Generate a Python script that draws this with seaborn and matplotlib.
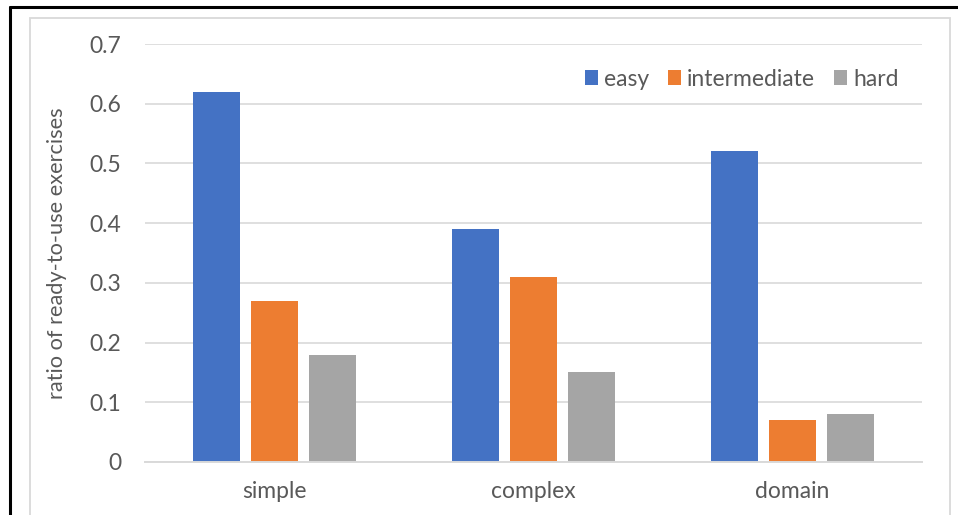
import matplotlib
matplotlib.use("Agg")
import matplotlib.pyplot as plt
from matplotlib.patches import Rectangle
from matplotlib.lines import Line2D
import seaborn as sns
import pandas as pd

categories = ["simple", "complex", "domain"]
levels = ["easy", "intermediate", "hard"]
easy = [0.62, 0.39, 0.52]
intermediate = [0.27, 0.31, 0.07]
hard = [0.18, 0.15, 0.08]
yticks = [0, 0.1, 0.2, 0.3, 0.4, 0.5, 0.6, 0.7]
ytick_labels = ["0", "0.1", "0.2", "0.3", "0.4", "0.5", "0.6", "0.7"]

df = pd.DataFrame({
    "category": categories * 3,
    "level": [lv for lv in levels for _ in categories],
    "ratio": easy + intermediate + hard,
})

sns.set_theme(style="white")
plt.rcParams["font.family"] = ["Lato", "DejaVu Sans"]

text_color = "#595959"
grid_color = "#d9d9d9"
palette = {"easy": "#4472C4", "intermediate": "#ED7D31", "hard": "#A5A5A5"}
fs = 16.5

fig = plt.figure(figsize=(9.58, 5.15), dpi=100)
ax = fig.add_axes([145 / 958, 1 - 462 / 515, (922 - 145) / 958, (462 - 44) / 515])

sns.barplot(data=df, x="category", y="ratio", hue="level", order=categories,
            hue_order=levels, palette=palette, width=0.672, gap=0.205,
            saturation=1, linewidth=0, ax=ax, legend=True)

ax.set_ylim(0, 0.7)
ax.set_xlim(-0.5, 2.5)
ax.set_yticks(yticks)
ax.set_yticklabels(ytick_labels)
ax.yaxis.grid(True, color=grid_color, linewidth=1.2)
ax.set_axisbelow(True)
for side in ["top", "right", "left"]:
    ax.spines[side].set_visible(False)
ax.spines["bottom"].set_color(grid_color)
ax.spines["bottom"].set_linewidth(1.4)
ax.tick_params(axis="both", length=0, colors=text_color, labelsize=fs)
ax.tick_params(axis="y", pad=17)
ax.tick_params(axis="x", pad=14)
ax.set_xlabel("")
ax.set_ylabel("ratio of ready-to-use exercises", color=text_color, fontsize=15.7, labelpad=16)

leg = ax.legend(loc="center right", bbox_to_anchor=(0.970, 0.916), ncol=3, frameon=False,
                fontsize=fs, handlelength=0.57, handleheight=0.57,
                handletextpad=0.26, columnspacing=0.83, borderaxespad=0, borderpad=0)
for t in leg.get_texts():
    t.set_color(text_color)

# chart frame: light grey inner border and dark outer edge lines
fig.add_artist(Rectangle((30 / 958, -0.1), (950 - 30) / 958, 1.1 - 18 / 515,
                         transform=fig.transFigure, fill=False,
                         edgecolor="#d9d9d9", linewidth=1.3))
fig.add_artist(Line2D([10 / 958, 1.0], [1 - 7 / 515, 1 - 7 / 515],
                      transform=fig.transFigure, color="black", linewidth=2.2))
fig.add_artist(Line2D([10 / 958, 10 / 958], [0, 1 - 7 / 515],
                      transform=fig.transFigure, color="black", linewidth=2.2))

fig.savefig("out.png", dpi=100)
